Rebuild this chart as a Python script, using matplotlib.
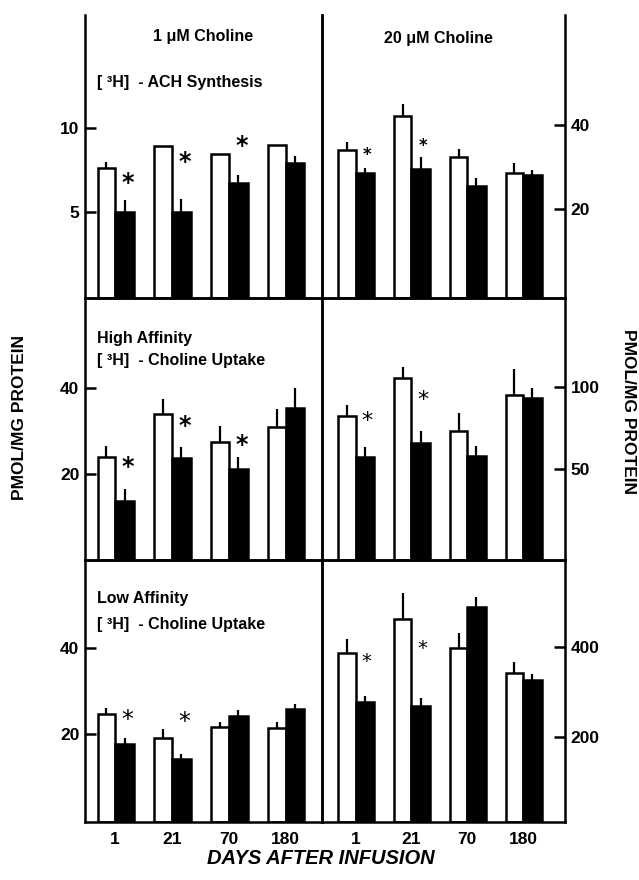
import matplotlib
matplotlib.use('Agg')
import matplotlib.pyplot as plt
import numpy as np

FONT = ['Liberation Sans', 'DejaVu Sans']
plt.rcParams['font.family'] = FONT
plt.rcParams['font.weight'] = 'bold'

days = ['1', '21', '70', '180']

# ---- [3H]-ACh synthesis ----
ach_1_ctrl = [7.6, 8.9, 8.45, 9.0]
ach_1_ctrl_sem = [0.4, 0.0, 0.0, 0.0]
ach_1_trt = [5.0, 5.0, 6.7, 7.9]
ach_1_trt_sem = [0.7, 0.8, 0.5, 0.4]
ach_20_ctrl = [34.0, 42.1, 32.4, 28.6]
ach_20_ctrl_sem = [2.0, 2.9, 1.9, 2.4]
ach_20_trt = [28.6, 29.5, 25.5, 28.1]
ach_20_trt_sem = [1.2, 2.9, 1.9, 1.2]

# ---- high affinity choline uptake ----
hi_1_ctrl = [24.0, 34.0, 27.4, 30.9]
hi_1_ctrl_sem = [2.5, 3.4, 3.8, 4.2]
hi_1_trt = [13.7, 23.7, 21.2, 35.3]
hi_1_trt_sem = [2.8, 2.6, 2.8, 4.7]
hi_20_ctrl = [82, 105, 73, 95]
hi_20_ctrl_sem = [7, 7, 11, 16]
hi_20_trt = [57, 66, 58, 93]
hi_20_trt_sem = [6, 7, 6, 6]

# ---- low affinity choline uptake ----
lo_1_ctrl = [24.7, 19.0, 21.6, 21.4]
lo_1_ctrl_sem = [1.3, 2.2, 1.2, 1.4]
lo_1_trt = [17.7, 14.2, 24.2, 25.8]
lo_1_trt_sem = [1.3, 1.1, 1.4, 1.2]
lo_20_ctrl = [387, 463, 398, 342]
lo_20_ctrl_sem = [31, 58, 34, 25]
lo_20_trt = [277, 268, 490, 327]
lo_20_trt_sem = [14, 18, 22, 13]

# significance markers: (group index, y value)
stars_ach_1 = [(0, 6.7), (1, 8.0), (2, 8.9)]
stars_ach_20 = [(0, 32.9), (1, 35.0)]
stars_hi_1 = [(0, 21.6), (1, 31.2), (2, 26.7)]
stars_hi_20 = [(0, 79), (1, 92)]
stars_lo_1 = [(0, 23.3), (1, 22.8)]
stars_lo_20 = [(0, 369), (1, 396)]

W = 639
H = 880
fig = plt.figure(figsize=(W / 100, H / 100), dpi=100)

def px_axes(x0, x1, ytop, ybot):
    return fig.add_axes([x0 / W, 1 - ybot / H, (x1 - x0) / W, (ybot - ytop) / H])

LW = 1.8
panels = [
    (85, 322, 15, 298, (-0.1, 16.7), [5, 10], 'left', ach_1_ctrl, ach_1_ctrl_sem, ach_1_trt, ach_1_trt_sem,
     stars_ach_1, (-0.53, 3.64), 17, 'bold', False),
    (322, 565, 15, 298, (-1.2, 66.2), [20, 40], 'right', ach_20_ctrl, ach_20_ctrl_sem, ach_20_trt, ach_20_trt_sem,
     stars_ach_20, (-0.6, 3.75), 12, 'bold', False),
    (85, 322, 298, 560, (0, 61), [20, 40], 'left', hi_1_ctrl, hi_1_ctrl_sem, hi_1_trt, hi_1_trt_sem,
     stars_hi_1, (-0.53, 3.64), 17, 'bold', True),
    (322, 565, 298, 560, (-5.5, 154), [50, 100], 'right', hi_20_ctrl, hi_20_ctrl_sem, hi_20_trt, hi_20_trt_sem,
     stars_hi_20, (-0.6, 3.75), 16, 'normal', True),
    (85, 322, 560, 822, (-0.5, 60.5), [20, 40], 'left', lo_1_ctrl, lo_1_ctrl_sem, lo_1_trt, lo_1_trt_sem,
     stars_lo_1, (-0.53, 3.64), 17, 'normal', True),
    (322, 565, 560, 822, (9, 595), [200, 400], 'right', lo_20_ctrl, lo_20_ctrl_sem, lo_20_trt, lo_20_trt_sem,
     stars_lo_20, (-0.6, 3.75), 14, 'normal', True),
]

WW = 0.31
WB = 0.33
x = np.arange(len(days))

for i, (x0, x1, yt, yb, ylim, ticks, side, c, cs, t, ts, stars, xlim, ssz, swt, topsp) in enumerate(panels):
    ax = px_axes(x0, x1, yt, yb)
    ylo = ylim[0]
    c = np.array(c, float); cs = np.array(cs, float)
    t = np.array(t, float); ts = np.array(ts, float)
    ax.bar(x - WW, c - ylo, width=WW, bottom=ylo, align='edge', facecolor='white',
           edgecolor='black', linewidth=LW, zorder=2)
    ax.bar(x, t - ylo, width=WB, bottom=ylo, align='edge', facecolor='black',
           edgecolor='black', linewidth=LW, zorder=2)
    ax.vlines(x - WW / 2, c, c + cs, color='black', linewidth=1.6, zorder=1)
    ax.vlines(x + WB / 2, t, t + ts, color='black', linewidth=1.6, zorder=1)
    for gi, sy in stars:
        ax.text(gi + (0.22 if side == 'left' else 0.2), sy, '*', ha='center', va='center',
                fontsize=ssz, fontweight=swt, family='DejaVu Sans')
    ax.set_xlim(*xlim)
    ax.set_ylim(*ylim)
    for s in ax.spines.values():
        s.set_linewidth(LW)
    ax.spines['top'].set_visible(topsp)
    ax.set_yticks(ticks)
    ax.set_yticklabels([str(v) for v in ticks], fontsize=12.5, fontweight='bold')
    if side == 'right':
        ax.yaxis.tick_right()
    ax.tick_params(axis='y', direction='in', length=8, width=LW, pad=4)
    if i >= 4:
        ax.set_xticks(x)
        ax.set_xticklabels(days, fontsize=12.5, fontweight='bold')
        ax.tick_params(axis='x', length=0, pad=7)
    else:
        ax.set_xticks([])
    ax.patch.set_alpha(0)

def ft(xp, yp, s, **kw):
    fig.text(xp / W, 1 - yp / H, s, **kw)

tkw = dict(fontsize=11.5, fontweight='bold', va='center')
ft(203, 37, '1 μM Choline', ha='center', **tkw)
ft(438, 38, '20 μM Choline', ha='center', **tkw)
ft(97, 83, '[ ³H]  - ACH Synthesis', ha='left', **tkw)
ft(97, 338, 'High Affinity', ha='left', **tkw)
ft(97, 360, '[ ³H]  - Choline Uptake', ha='left', **tkw)
ft(97, 598, 'Low Affinity', ha='left', **tkw)
ft(97, 624, '[ ³H]  - Choline Uptake', ha='left', **tkw)

ft(20, 417, 'PMOL/MG PROTEIN', ha='center', rotation=90, fontsize=12.5, fontweight='bold', va='center')
ft(629, 411, 'PMOL/MG PROTEIN', ha='center', rotation=-90, fontsize=12.5, fontweight='bold', va='center')
ft(321, 858, 'DAYS AFTER INFUSION', ha='center', va='center', fontsize=14.5, fontweight='bold',
   style='italic')

fig.savefig('out.png', dpi=100)
